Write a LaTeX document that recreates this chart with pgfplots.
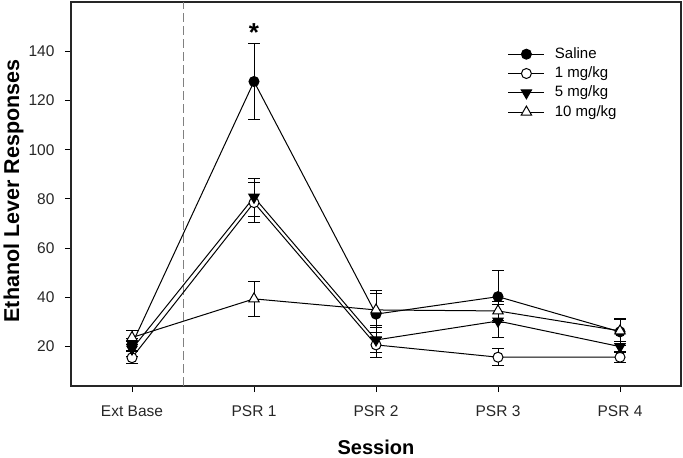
\documentclass[border=0pt]{standalone}
\usepackage{fontspec}
\setmainfont{Liberation Sans}
\usepackage{pgfplots}
\pgfplotsset{compat=1.18}
\begin{document}
\begin{tikzpicture}
\begin{axis}[
  name=ax,
  scale only axis, width=610bp, height=384bp,
  xmin=-0.5, xmax=4.5, ymin=4, ymax=160,
  xtick={0,1,2,3,4}, xticklabels={Ext Base, PSR 1, PSR 2, PSR 3, PSR 4},
  ytick={20,40,60,80,100,120,140},
  tick align=outside, tick pos=left,
  major tick length=6bp,
  tick style={line width=1bp, black},
  axis line style={line width=1.3bp, black!85},
  /pgf/number format/assume math mode=true,
  tick label style={font=\fontsize{15.5bp}{17bp}\selectfont, text=black!85},
  xticklabel style={yshift=-10bp},
  yticklabel style={xshift=-7bp},
  xlabel={\textbf{Session}},
  ylabel={\textbf{Ethanol Lever Responses}},
  xlabel style={font=\fontsize{20bp}{24bp}\selectfont, at={(axis description cs:0.5,-0.159)}, anchor=center},
  ylabel style={font=\fontsize{21.5bp}{24bp}\selectfont, at={(axis description cs:-0.0943,0.508)}, anchor=center},
  legend style={draw=none, fill=none, at={(axis description cs:0.711,0.888)}, anchor=north west,
    font=\fontsize{15bp}{17bp}\selectfont, row sep=5.3bp,
    nodes={inner sep=0pt, text height=11bp, text depth=3bp},
    /tikz/every odd column/.style={column sep=10bp}},
  legend cell align=left,
  legend image code/.code={\draw[mark repeat=2,mark phase=2] plot coordinates {(0bp,0bp) (18bp,0bp) (36bp,0bp)};},
  error bars/error mark options={rotate=90, line width=1bp, mark size=6bp, black},
  error bars/error bar style={line width=1bp, black},
]
\addplot[forget plot, gray, line width=1bp, dash pattern=on 9bp off 4bp] coordinates {(0.42,4) (0.42,160)};

\addplot[black, line width=1bp, mark=*, mark size=5bp, mark options={solid, fill=black},
  error bars/.cd, y dir=both, y explicit]
  table[x=x, y=y, y error=e] {
x y e
0 21 2.5
1 127.7 15.3
2 33.2 9.5
3 40.3 10.5
4 26 5.5
};
\addlegendentry{Saline}

\addplot[black, line width=1bp, mark=*, mark size=5bp, mark options={solid, fill=white},
  error bars/.cd, y dir=both, y explicit]
  table[x=x, y=y, y error=e] {
x y e
0 15.5 2.5
1 78.5 8.2
2 20.7 5
3 15.7 3.5
4 15.7 2
};
\addlegendentry{1 mg/kg}

\addplot[black, line width=1bp, mark=triangle*, mark size=6bp, mark options={solid, fill=black, rotate=180},
  error bars/.cd, y dir=both, y explicit]
  table[x=x, y=y, y error=e] {
x y e
0 19 3
1 80.7 7.8
2 22.7 5
3 30.4 6.8
4 20 2
};
\addlegendentry{5 mg/kg}

\addplot[black, line width=1bp, mark=triangle*, mark size=6bp, mark options={solid, fill=white},
  error bars/.cd, y dir=both, y explicit]
  table[x=x, y=y, y error=e] {
x y e
0 23.7 2.7
1 39.4 7.1
2 34.9 6.5
3 34.5 4
4 26.4 4.5
};
\addlegendentry{10 mg/kg}

\node[font=\bfseries\fontsize{26bp}{26bp}\selectfont, anchor=base] at (axis cs:1,150) [yshift=-15bp] {*};
\end{axis}
\pgfresetboundingbox
\path ([shift={(-71bp,-71bp)}]ax.south west) rectangle ([shift={(2bp,2bp)}]ax.north east);
\end{tikzpicture}
\end{document}
